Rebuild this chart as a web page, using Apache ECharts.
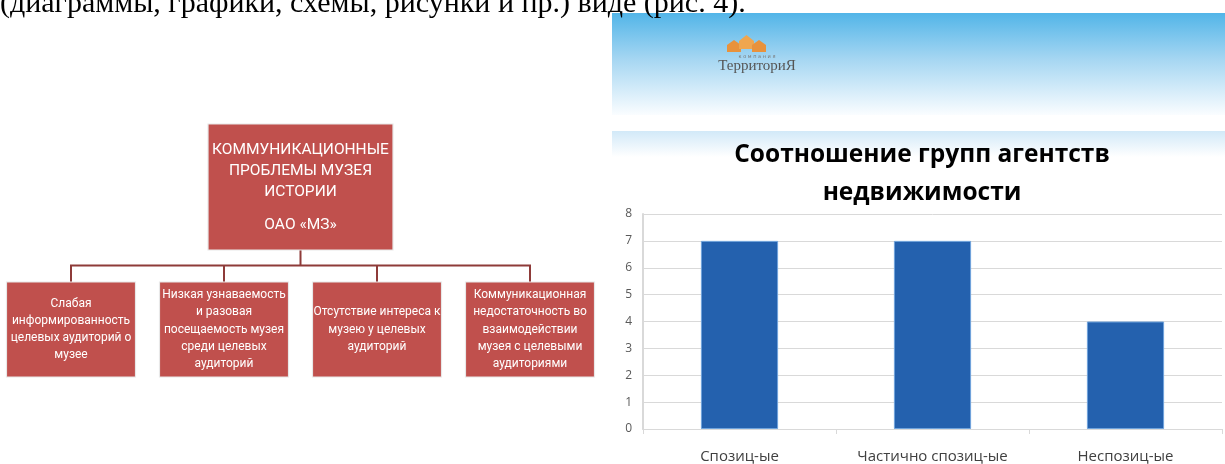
<!DOCTYPE html>
<html>
<head>
<meta charset="utf-8">
<script src="https://cdn.jsdelivr.net/npm/echarts@6/dist/echarts.min.js"></script>
<style>
  html, body { margin: 0; padding: 0; background: #fff; }
  #chart { width: 1225px; height: 464px; }
</style>
</head>
<body>
<div id="chart"></div>
<script>
// bar chart data
const categories = ['Спозиц-ые', 'Частично спозиц-ые', 'Неспозиц-ые'];
const agencyCounts = [7, 7, 4];
const yTicks = { min: 0, max: 8, step: 1 };

// diagram text
const rootLines = ['КОММУНИКАЦИОННЫЕ', 'ПРОБЛЕМЫ МУЗЕЯ', 'ИСТОРИИ'];
const rootSub = 'ОАО «МЗ»';
const problems = [
	'Слабая\nинформированность\nцелевых аудиторий о\nмузее',
	'Низкая узнаваемость\nи разовая\nпосещаемость музея\nсреди целевых\nаудиторий',
	'Отсутствие интереса к\nмузею у целевых\nаудиторий',
	'Коммуникационная\nнедостаточность во\nвзаимодействии\nмузея с целевыми\nаудиториями'
];

const pageText = '(диаграммы, графики, схемы, рисунки и пр.) виде (рис. 4).';
const chartTitle = 'Соотношение групп агентств\nнедвижимости';

const narrow = 'Roboto, sans-serif';
const sans = '"Open Sans", "Noto Sans", sans-serif';

const chart = echarts.init(document.getElementById('chart'));

const treeData = {
	name: 'root',
	symbolSize: [185, 126],
	label: {
		formatter: rootLines.map(l => '{a|' + l + '}').join('\n') + '\n{b|' + rootSub + '}',
		offset: [0, 6.5],
		rich: {
			a: { fontSize: 15.5, lineHeight: 21, color: '#fff', fontFamily: narrow },
			b: { fontSize: 15.5, lineHeight: 45, color: '#fff', fontFamily: narrow }
		}
	},
	children: problems.map(t => ({ name: t }))
};

const option = {
	animation: false,
	title: {
		text: chartTitle,
		left: 917,
		top: 131,
		textAlign: 'center',
		textStyle: { fontSize: 24.5, fontWeight: 'bold', color: '#000', fontFamily: sans, lineHeight: 38 }
	},
	graphic: {
		elements: [
			{
				type: 'rect', z: -10,
				shape: { x: 612, y: 13, width: 613, height: 102 },
				style: {
					fill: new echarts.graphic.LinearGradient(0, 0, 0, 1, [
						{ offset: 0, color: '#52b5e8' },
						{ offset: 0.45, color: '#a5d6f2' },
						{ offset: 1, color: '#fafdff' }
					])
				}
			},
			{
				type: 'rect', z: -10,
				shape: { x: 612, y: 131, width: 613, height: 26 },
				style: {
					fill: new echarts.graphic.LinearGradient(0, 0, 0, 1, [
						{ offset: 0, color: '#d2e9f8' },
						{ offset: 1, color: '#ffffff' }
					])
				}
			},
			{
				type: 'polygon', z: -5,
				shape: { points: [[727, 52], [727, 45], [734, 40], [741, 45], [741, 52]] },
				style: { fill: '#e8923c' }
			},
			{
				type: 'polygon', z: -5,
				shape: { points: [[739, 49], [739, 41], [746.5, 35], [754, 41], [754, 49]] },
				style: { fill: '#efa64f' }
			},
			{
				type: 'polygon', z: -5,
				shape: { points: [[752, 52], [752, 45], [759, 40], [766, 45], [766, 52]] },
				style: { fill: '#e8923c' }
			},
			{
				type: 'text', z: -5, x: 757, y: 57,
				style: { text: 'к о м п а н и я', font: '5px "DejaVu Sans"', fill: '#777', align: 'center', verticalAlign: 'middle' }
			},
			{
				type: 'text', z: -5, x: 757, y: 66,
				style: { text: 'ТерриториЯ', font: '15px "Liberation Serif"', fill: '#555', align: 'center', verticalAlign: 'middle' }
			},
			{
				type: 'text', x: 0, y: 4,
				style: { text: pageText, font: '30px "Liberation Serif"', fill: '#000', align: 'left', verticalAlign: 'middle' }
			}
		]
	},
	grid: { left: 643, top: 214, right: 3, bottom: 33 },
	xAxis: {
		type: 'category',
		data: categories,
		axisLine: { lineStyle: { color: '#d9d9d9', width: 1 } },
		axisTick: { show: true, length: 5, lineStyle: { color: '#d9d9d9' } },
		axisLabel: { interval: 0, fontSize: 15, color: '#404040', fontFamily: sans, margin: 20 }
	},
	yAxis: {
		type: 'value',
		min: yTicks.min,
		max: yTicks.max,
		interval: yTicks.step,
		axisLine: { show: true, lineStyle: { color: '#d9d9d9', width: 2 } },
		axisTick: { show: false },
		axisLabel: { fontSize: 12, color: '#595959', fontFamily: sans, margin: 11 },
		splitLine: { lineStyle: { color: '#d9d9d9', width: 1 } }
	},
	series: [
		{
			type: 'bar',
			data: agencyCounts,
			barWidth: '40%',
			itemStyle: { color: '#2461ae', borderColor: '#6fa3dc', borderWidth: 1 },
			silent: true
		},
		{
			type: 'tree',
			data: [treeData],
			orient: 'TB',
			layout: 'orthogonal',
			left: -5.5,
			top: 187,
			width: 612,
			height: 142.5,
			edgeShape: 'polyline',
			edgeForkPosition: '55%',
			symbol: 'rect',
			symbolSize: [129, 95],
			initialTreeDepth: -1,
			expandAndCollapse: false,
			roam: false,
			silent: true,
			lineStyle: { color: '#8e3b39', width: 2 },
			itemStyle: { color: '#c0504d', borderColor: '#e8e8e8', borderWidth: 1 },
			label: {
				position: 'inside',
				align: 'center',
				verticalAlign: 'middle',
				color: '#fff',
				fontFamily: narrow,
				fontSize: 12,
				lineHeight: 17.3
			},
			leaves: {
				label: { position: 'inside', align: 'center', verticalAlign: 'middle' }
			},
			emphasis: { disabled: true }
		}
	]
};

chart.setOption(option);
</script>
</body>
</html>
